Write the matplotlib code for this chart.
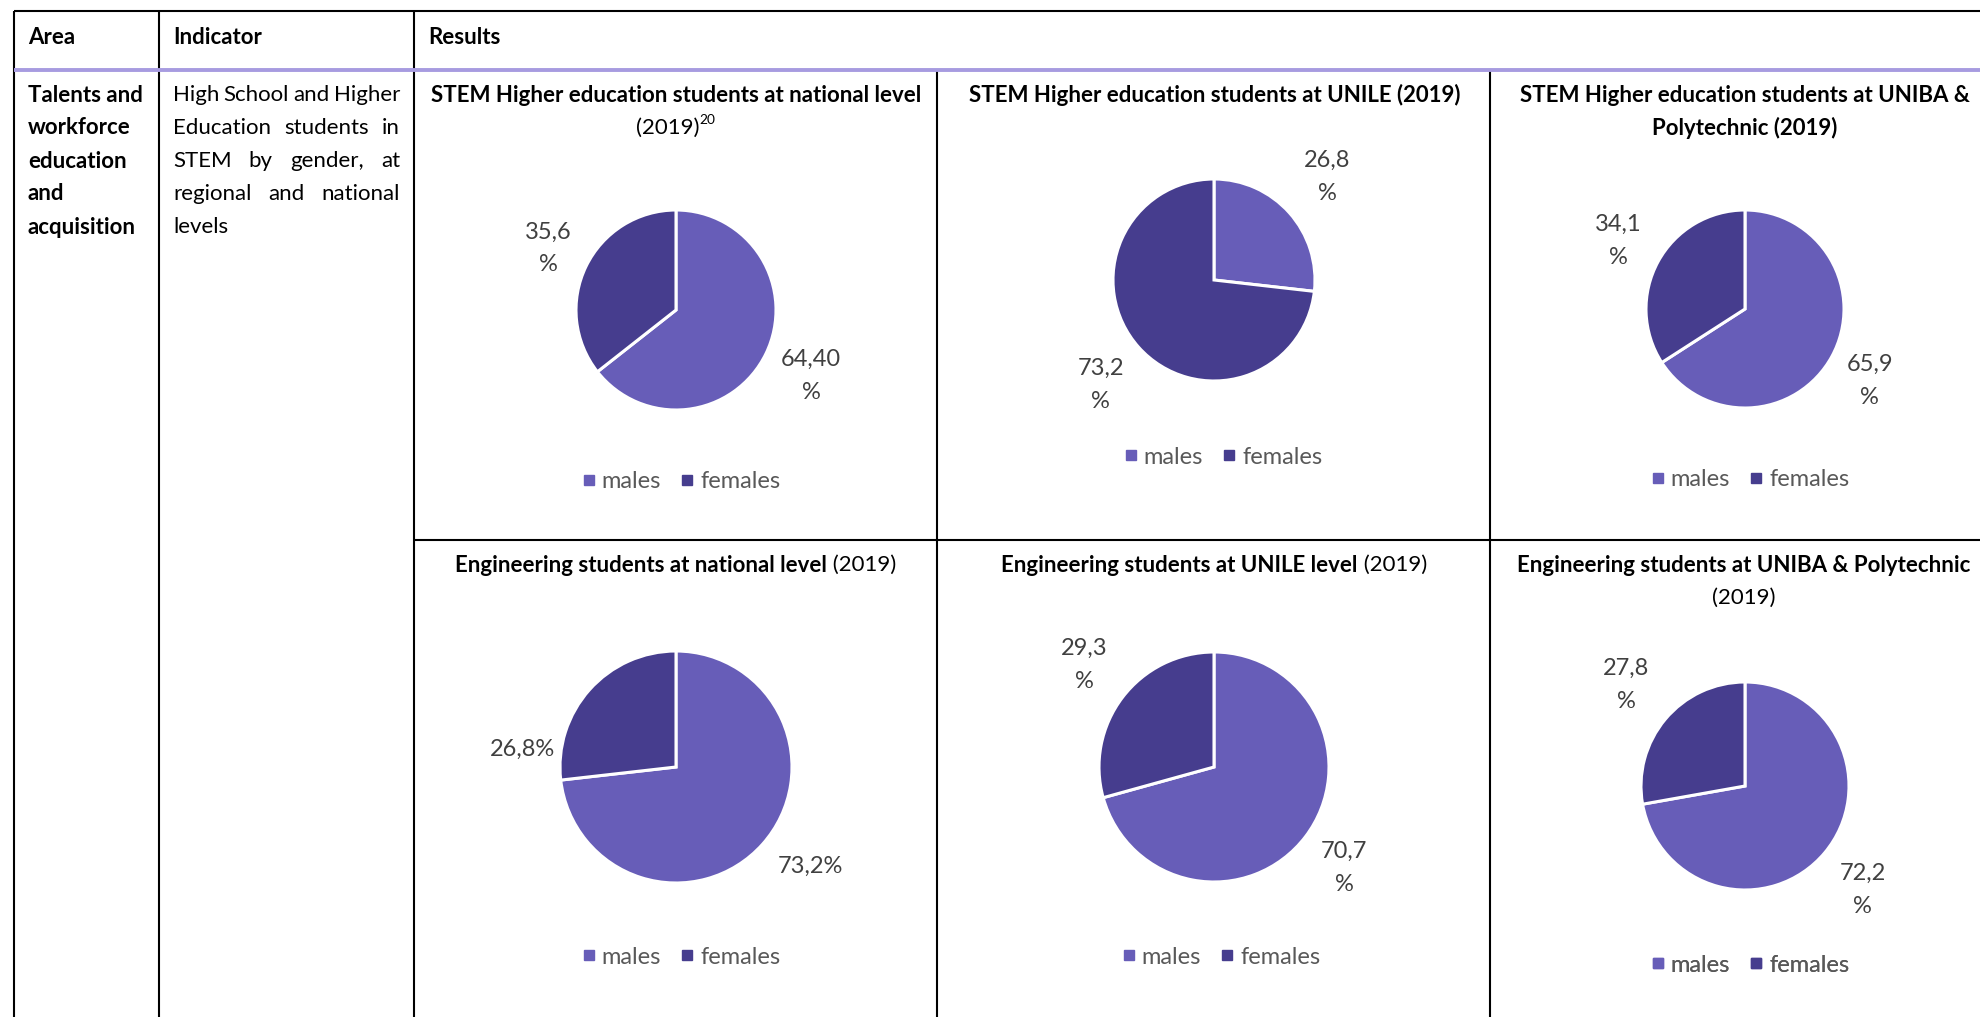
import matplotlib as mpl
mpl.use("Agg")
import matplotlib.pyplot as plt
from matplotlib.lines import Line2D

W, H = 1980, 1017
plt.rcParams.update({"font.family": ["Lato", "DejaVu Sans"], "figure.facecolor": "white",
                     "savefig.facecolor": "white"})

LIGHT = "#675DB8"
DARK = "#463D8E"
LAVENDER = "#A79BE0"
LABEL_C = "#404040"
LEGEND_C = "#595959"

# ---- data ----
series = ["males", "females"]
males = [64.40, 26.8, 65.9, 73.2, 70.7, 72.2]
females = [35.6, 73.2, 34.1, 26.8, 29.3, 27.8]
male_labels = ["64,40\n%", "26,8\n%", "65,9\n%", "73,2%", "70,7\n%", "72,2\n%"]
female_labels = ["35,6\n%", "73,2\n%", "34,1\n%", "26,8%", "29,3\n%", "27,8\n%"]

header = ["Area", "Indicator", "Results"]
area_lines = ["Talents and", "workforce", "education", "and", "acquisition"]
indicator_lines = ["High School and Higher", "Education students in", "STEM by gender, at",
                   "regional and national", "levels"]

# title lines: list of (text, weight, superscript?)
titles = [
    [[("STEM Higher education students at national level", "bold", False)],
     [("(2019)", "normal", False), ("20", "normal", True)]],
    [[("STEM Higher education students at UNILE (2019)", "bold", False)]],
    [[("STEM Higher education students at UNIBA &", "bold", False)],
     [("Polytechnic (2019)", "bold", False)]],
    [[("Engineering students at national level", "bold", False), (" (2019)", "normal", False)]],
    [[("Engineering students at UNILE level", "bold", False), (" (2019)", "normal", False)]],
    [[("Engineering students at UNIBA & Polytechnic", "bold", False)],
     [("(2019)", "normal", False)]],
]

# ---- layout (pixels, y from top) ----
pie_center = [(676, 310), (1214, 280), (1745, 309), (676, 767), (1214, 767), (1745, 786)]
pie_radius = [100, 101, 99, 116, 115, 104]
title_x = [676, 1215, 1745, 676, 1214, 1744]
title_y = [95, 95, 95, 565, 565, 565]
legend_pos = [(681, 482), (1223, 457), (1750, 480), (681, 957), (1221, 957), (1750, 965)]
# label offsets in radius units (x right, y up)
male_off = [(1.35, -0.66), (1.12, 1.02), (1.26, -0.73), (1.155, -0.86), (1.13, -0.88), (1.13, -1.0)]
female_off = [(-1.28, 0.615), (-1.12, -1.04), (-1.28, 0.69), (-1.32, 0.155), (-1.13, 0.89), (-1.14, 0.97)]

LINE_H = 33
FS_BODY = 16
FS_TITLE = 16
FS_LABEL = 17
FS_LEG = 17


def Y(y):
    return H - y


fig = plt.figure(figsize=(W / 100, H / 100), dpi=100)
ax = fig.add_axes([0, 0, 1, 1])
r = fig.canvas.get_renderer()

# ---- pies ----
for i in range(6):
    cx, cy = pie_center[i]
    rad = pie_radius[i]
    wedges, _ = ax.pie([males[i], females[i]], colors=[LIGHT, DARK], startangle=90, counterclock=False,
                       center=(cx, Y(cy)), radius=rad,
                       wedgeprops=dict(edgecolor="white", linewidth=2.2))
    for lab, (ox, oy) in [(male_labels[i], male_off[i]), (female_labels[i], female_off[i])]:
        ax.text(cx + ox * rad, Y(cy) + oy * rad, lab, ha="center", va="center", fontsize=FS_LABEL,
                color=LABEL_C, linespacing=1.7)
    handles = [Line2D([], [], marker="s", linestyle="", color=c, markersize=7) for c in (LIGHT, DARK)]
    lx, ly = legend_pos[i]
    leg = ax.legend(handles, series, loc="center", bbox_to_anchor=(lx, Y(ly)), bbox_transform=ax.transData,
                    ncol=2, frameon=False, fontsize=FS_LEG, handletextpad=0.25, columnspacing=0.8,
                    handlelength=0.6, borderpad=0, labelcolor=LEGEND_C)
    ax.add_artist(leg)


def seg_line(xc, y, segs):
    arts = []
    for s, wt, sup in segs:
        if sup:
            a = ax.text(0, Y(y) + 8, s, fontsize=FS_TITLE * 0.62, fontweight=wt, ha="left", va="center")
        else:
            a = ax.text(0, Y(y), s, fontsize=FS_TITLE, fontweight=wt, ha="left", va="center")
        arts.append(a)
    ws = [a.get_window_extent(r).width for a in arts]
    x = xc - sum(ws) / 2
    for a, w in zip(arts, ws):
        a.set_x(x)
        x += w


for i in range(6):
    for j, segs in enumerate(titles[i]):
        seg_line(title_x[i], title_y[i] + j * LINE_H, segs)


def justified(x0, x1, y, line, last):
    words = line.split()
    arts = [ax.text(0, Y(y), w, ha="left", va="center", fontsize=FS_BODY) for w in words]
    ws = [a.get_window_extent(r).width for a in arts]
    gap = 5 if (last or len(words) == 1) else (x1 - x0 - sum(ws)) / (len(words) - 1)
    x = x0
    for a, w in zip(arts, ws):
        a.set_x(x)
        x += w + gap


# ---- table text ----
for txt, x in zip(header, [28, 173, 428]):
    ax.text(x, Y(37), txt, ha="left", va="center", fontsize=FS_BODY, fontweight="bold")
for k, txt in enumerate(area_lines):
    ax.text(28, Y(95 + k * LINE_H), txt, ha="left", va="center", fontsize=FS_BODY, fontweight="bold")
for k, txt in enumerate(indicator_lines):
    justified(173, 400, 95 + k * LINE_H, txt, k == len(indicator_lines) - 1)

# ---- table rules ----
BL = dict(color="black", lw=1.5, solid_capstyle="butt")
ax.plot([14, W], [Y(11), Y(11)], **BL)
for x in (14, 159, 414):
    ax.plot([x, x], [Y(11), 0], **BL)
for x in (937, 1490):
    ax.plot([x, x], [Y(70), 0], **BL)
ax.plot([414, W], [Y(540), Y(540)], **BL)
ax.plot([14, W], [Y(70), Y(70)], color=LAVENDER, lw=2.8, solid_capstyle="butt")

ax.set_xlim(0, W)
ax.set_ylim(0, H)
ax.set_aspect("auto")
ax.axis("off")
fig.savefig("out.png", dpi=100)
